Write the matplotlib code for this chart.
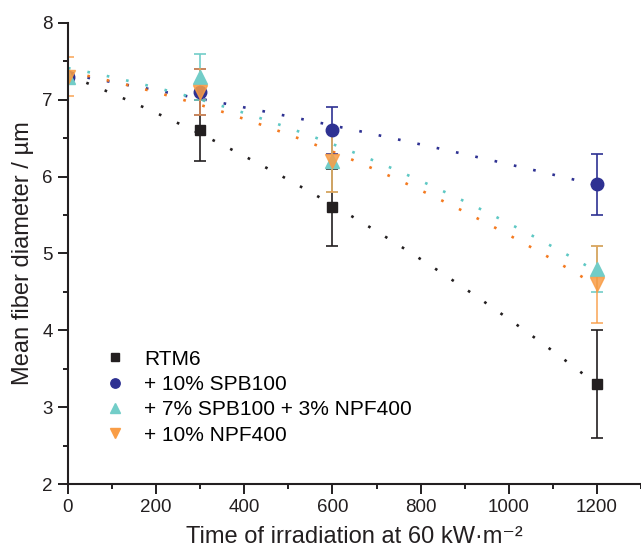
import numpy as np
import matplotlib
matplotlib.use("Agg")
from matplotlib import pyplot as plt
from matplotlib.ticker import MultipleLocator

plt.rcParams['font.family'] = ['Liberation Sans', 'DejaVu Sans']

time = [0, 300, 600, 1200]

rtm6 = [7.3, 6.6, 5.6, 3.3]
rtm6_err = [0.0, 0.4, 0.5, 0.7]
spb = [7.3, 7.1, 6.6, 5.9]
spb_err = [0.0, 0.3, 0.3, 0.4]
mix = [7.3, 7.3, 6.2, 4.8]
mix_err = [0.0, 0.3, 0.4, 0.3]
npf = [7.3, 7.1, 6.2, 4.6]
npf_err = [0.25, 0.3, 0.4, 0.5]

labels = ["RTM6", "+ 10% SPB100", "+ 7% SPB100 + 3% NPF400", "+ 10% NPF400"]

series = [
    (rtm6, rtm6_err, 's', 7.5, '#231f20', '#231f20', 1.0),
    (spb, spb_err, 'o', 9, '#2e3192', '#2e3192', 1.0),
    (mix, mix_err, '^', 9.5, '#72cdc8', '#5ec8c4', 1.0),
    (npf, npf_err, 'v', 9.5, '#f99d46', '#f47a20', 0.85),
]

fig = plt.figure(figsize=(6.41, 5.57), dpi=100)
ax = fig.add_axes([0.106, 0.131, 0.894, 0.828])

xs = np.linspace(0, 1200, 200)
handles = []
for (y, err, mk, ms, col, lcol, a), lab in zip(series, labels):
    # smooth trend through the points (quadratic fit), drawn dotted
    coef = np.polyfit(time, y, 2)
    ax.plot(xs, np.polyval(coef, xs), color=lcol, lw=1.9,
            linestyle=(0, (1, 6.5)), zorder=2)
    eb = ax.errorbar(time, y, yerr=err, fmt=mk, ms=ms, color=col, mec=col,
                     ecolor=col, elinewidth=1.2, capsize=4, capthick=1.2,
                     alpha=a, zorder=3, label=lab)
    handles.append(eb[0])

ax.set_xlim(0, 1300)
ax.set_ylim(2, 8)
ax.xaxis.set_major_locator(MultipleLocator(200))
ax.xaxis.set_minor_locator(MultipleLocator(100))
ax.yaxis.set_major_locator(MultipleLocator(1))
ax.yaxis.set_minor_locator(MultipleLocator(0.5))

for s in ['top', 'right']:
    ax.spines[s].set_visible(False)
for s in ['left', 'bottom']:
    ax.spines[s].set_linewidth(1.5)
    ax.spines[s].set_color('#231f20')
    ax.spines[s].set_zorder(5)

ax.tick_params(which='major', direction='out', length=7, width=1.4,
               labelsize=13.5, colors='#231f20', pad=4)
ax.tick_params(which='minor', direction='out', length=3.5, width=1.4,
               colors='#231f20')

ax.set_xlabel("Time of irradiation at 60 kW·m\u207b\u00b2", fontsize=17,
              color='#231f20', labelpad=7)
ax.set_ylabel("Mean fiber diameter / µm", fontsize=17, color='#231f20',
              labelpad=6)

leg = ax.legend(handles, labels, loc='lower left',
                bbox_to_anchor=(0.028, 0.045), frameon=False, fontsize=15,
                markerscale=0.75, handletextpad=0.8, labelspacing=0.3,
                handlelength=1.2)
for h in leg.legend_handles:
    h.set_alpha(1)

fig.savefig("out.png", dpi=100)
